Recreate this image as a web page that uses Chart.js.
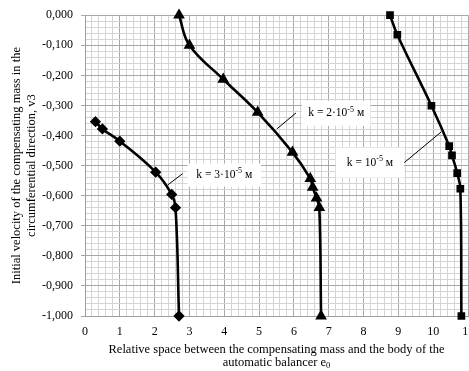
<!DOCTYPE html>
<html>
<head>
<meta charset="utf-8">
<script src="https://cdn.jsdelivr.net/npm/chart.js@4"></script>
<style>
  html, body { margin: 0; padding: 0; background: #fff; }
  canvas { display: block; }
</style>
</head>
<body>
<canvas id="chart" width="469" height="371"></canvas>
<script>
// data
var xK3 = [0.3, 0.5, 1.0, 2.03, 2.49, 2.6, 2.7];
var yK3 = [-0.354, -0.378, -0.419, -0.522, -0.596, -0.64, -1.0];

var xK2 = [2.7, 3.0, 3.97, 4.96, 5.96, 6.47, 6.54, 6.65, 6.73, 6.78];
var yK2 = [0, -0.1, -0.213, -0.323, -0.456, -0.543, -0.572, -0.608, -0.64, -1.0];

var xK1 = [8.76, 8.97, 9.95, 10.46, 10.54, 10.69, 10.78, 10.81];
var yK1 = [0, -0.065, -0.301, -0.435, -0.466, -0.525, -0.577, -1.0];

var X_MAX = 11;

var FONT = '"Liberation Serif", "Times New Roman", serif';

function toPoints(xs, ys) {
    return xs.map(function(x, i) { return { x: x, y: ys[i] }; });
}

function isMajor(v, step) {
    var r = v / step;
    return Math.abs(r - Math.round(r)) < 1e-6;
}

function fmtY(v) {
    var s = Math.abs(v).toFixed(3).replace('.', ',');
    return (v < -1e-9 ? '-' : '') + s;
}

// label boxes + leader lines, in data units
var notes = [
    { parts: [['k = 3·10'], ['-5', 1], [' м']], box: [2.94, -0.493, 5.06, -0.57], line: [2.37, -0.565, 2.8, -0.527] },
    { parts: [['k = 2·10'], ['-5', 1], [' м']], box: [6.23, -0.285, 8.2, -0.368], line: [5.51, -0.378, 6.06, -0.325] },
    { parts: [['k = 10'], ['-5', 1], [' м']], box: [7.2, -0.44, 9.17, -0.54], line: [9.17, -0.49, 10.23, -0.388] }
];

function drawParts(ctx, parts, cx, cy) {
    var widths = parts.map(function(p) {
        ctx.font = (p[1] ? '8px ' : '11.5px ') + FONT;
        return ctx.measureText(p[0]).width;
    });
    var total = widths.reduce(function(a, b) { return a + b; }, 0);
    var x = cx - total / 2;
    ctx.textBaseline = 'middle';
    ctx.textAlign = 'left';
    parts.forEach(function(p, i) {
        ctx.font = (p[1] ? '8px ' : '11.5px ') + FONT;
        ctx.fillText(p[0], x, p[1] ? cy - 4 : cy);
        x += widths[i];
    });
}

var notesPlugin = {
    id: 'notes',
    beforeDatasetsDraw: function(chart) {
        var ctx = chart.ctx, sx = chart.scales.x, sy = chart.scales.y;
        ctx.save();
        notes.forEach(function(n) {
            var x0 = sx.getPixelForValue(n.box[0]), y0 = sy.getPixelForValue(n.box[1]);
            var x1 = sx.getPixelForValue(n.box[2]), y1 = sy.getPixelForValue(n.box[3]);
            ctx.fillStyle = '#fff';
            ctx.fillRect(x0, y0, x1 - x0, y1 - y0);
            ctx.strokeStyle = '#000';
            ctx.lineWidth = 1;
            ctx.beginPath();
            ctx.moveTo(sx.getPixelForValue(n.line[0]), sy.getPixelForValue(n.line[1]));
            ctx.lineTo(sx.getPixelForValue(n.line[2]), sy.getPixelForValue(n.line[3]));
            ctx.stroke();
            ctx.fillStyle = '#000';
            drawParts(ctx, n.parts, (x0 + x1) / 2, (y0 + y1) / 2);
        });
        ctx.restore();
    },
    afterDraw: function(chart) {
        var ctx = chart.ctx, area = chart.chartArea, sx = chart.scales.x;
        ctx.save();
        ctx.fillStyle = '#000';
        // last x tick label, left to run off the canvas like the original
        ctx.textAlign = 'center';
        ctx.textBaseline = 'middle';
        ctx.font = '12px ' + FONT;
        ctx.fillText(String(X_MAX), sx.getPixelForValue(X_MAX), 332);

        ctx.font = '12.5px ' + FONT;
        var cx = (area.left + area.right) / 2;
        ctx.fillText('Relative space between the compensating mass and the body of the', cx, 350);
        // second line with subscript
        var a = 'automatic balancer e';
        var wa = ctx.measureText(a).width;
        ctx.font = '8.5px ' + FONT;
        var wb = ctx.measureText('0').width;
        var sx0 = cx - (wa + wb) / 2;
        ctx.font = '12.5px ' + FONT;
        ctx.textAlign = 'left';
        ctx.fillText(a, sx0, 363);
        ctx.font = '8.5px ' + FONT;
        ctx.fillText('0', sx0 + wa, 366);
        // y title
        ctx.translate(0, (area.top + area.bottom) / 2);
        ctx.rotate(-Math.PI / 2);
        ctx.textAlign = 'center';
        ctx.font = '12.5px ' + FONT;
        ctx.fillText('Initial velocity of the compensating mass in the', 0, 17);
        ctx.fillText('circumferential direction, v3', 0, 32);
        ctx.restore();
    }
};

function series(label, xs, ys, style, r) {
    return {
        label: label,
        data: toPoints(xs, ys),
        showLine: true,
        clip: false,
        borderColor: '#000',
        backgroundColor: '#000',
        borderWidth: 2.6,
        tension: 0.4,
        pointStyle: style,
        pointRadius: r,
        pointHoverRadius: r
    };
}

new Chart(document.getElementById('chart').getContext('2d'), {
    type: 'scatter',
    data: {
        datasets: [
            series('k = 3·10^-5 м', xK3, yK3, 'rectRot', 3.8),
            series('k = 2·10^-5 м', xK2, yK2, 'triangle', 4.2),
            series('k = 10^-5 м', xK1, yK1, 'rect', 3.6)
        ]
    },
    options: {
        responsive: false,
        animation: false,
        layout: { autoPadding: false, padding: { top: 14, right: 1, left: 0, bottom: 0 } },
        plugins: { legend: { display: false }, tooltip: { enabled: false } },
        scales: {
            x: {
                type: 'linear', min: 0, max: X_MAX,
                afterFit: function(s) { s.height = 55; },
                border: { color: '#9e9e9e' },
                grid: {
                    tickLength: 9,
                    tickColor: 'rgba(0,0,0,0)',
                    color: function(c) { return isMajor(c.tick.value, 1) ? '#a8a8a8' : '#d4d4d4'; }
                },
                ticks: {
                    stepSize: 0.2, autoSkip: false, maxRotation: 0, padding: 0,
                    color: '#000', font: { family: FONT, size: 12 },
                    callback: function(v) {
                        if (v >= X_MAX - 1e-6) return '';
                        return isMajor(v, 1) ? String(Math.round(v)) : '';
                    }
                }
            },
            y: {
                type: 'linear', min: -1, max: 0,
                afterFit: function(s) { s.width = 85; },
                border: { color: '#9e9e9e' },
                grid: {
                    tickLength: 4,
                    color: function(c) { return isMajor(c.tick.value, 0.1) ? '#a8a8a8' : '#d4d4d4'; },
                    tickColor: function(c) { return isMajor(c.tick.value, 0.1) ? '#a8a8a8' : 'rgba(0,0,0,0)'; }
                },
                ticks: {
                    stepSize: 0.02, autoSkip: false, padding: 8,
                    color: '#000', font: { family: FONT, size: 12 },
                    callback: function(v) { return isMajor(v, 0.1) ? fmtY(v) : ''; }
                }
            }
        }
    },
    plugins: [notesPlugin]
});
</script>
</body>
</html>
